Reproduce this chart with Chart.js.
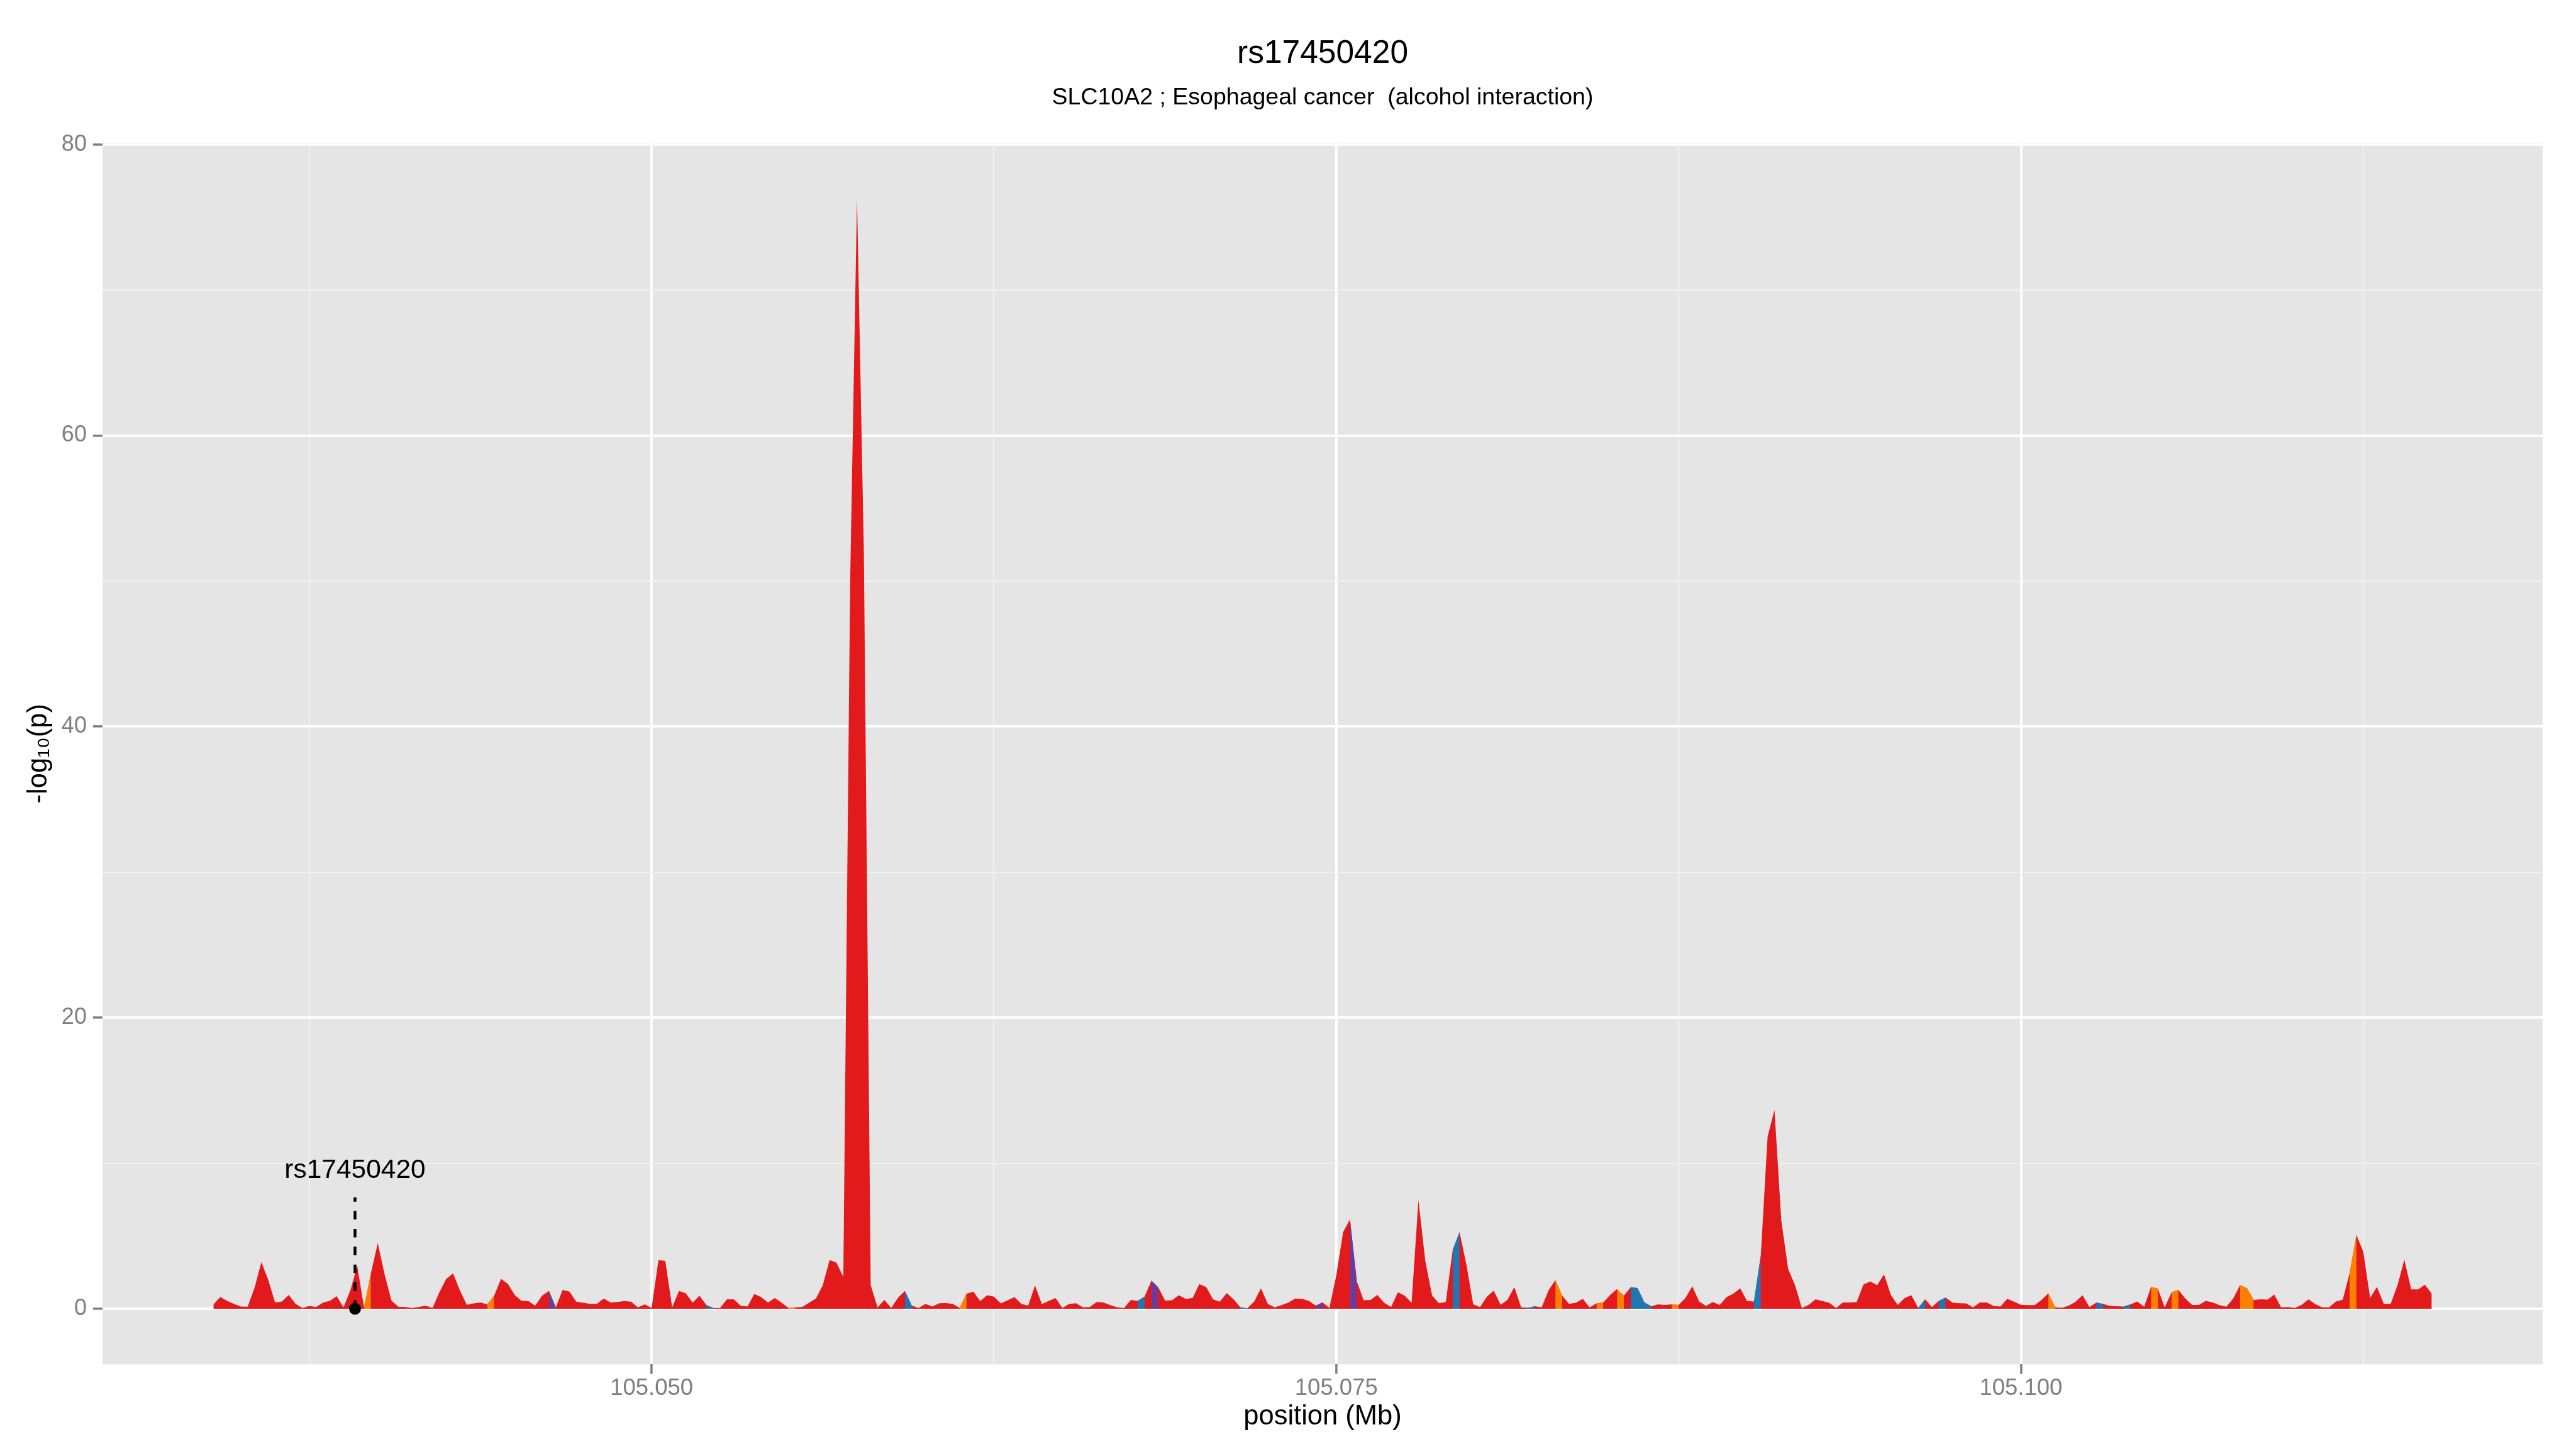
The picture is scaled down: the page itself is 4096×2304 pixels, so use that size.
<!DOCTYPE html>
<html>
<head>
<meta charset="utf-8">
<title>rs17450420</title>
<script src="https://cdn.jsdelivr.net/npm/chart.js@4.4.0/dist/chart.umd.min.js"></script>
<style>
    html, body { margin: 0; padding: 0; background: #ffffff; }
    #wrap { width: 4096px; height: 2304px; }
</style>
</head>
<body>
<div id="wrap"><canvas id="chart" width="4096" height="2304"></canvas></div>
<script>
// binned positions along the region (Mb)
var positions = [
    105.034, 105.03425, 105.0345, 105.03475, 105.035, 105.03525, 105.0355, 105.03575,
    105.036, 105.03625, 105.0365, 105.03675, 105.037, 105.03725, 105.0375, 105.03775,
    105.038, 105.03825, 105.0385, 105.03875, 105.039, 105.03925, 105.0395, 105.03975,
    105.040, 105.04025, 105.0405, 105.04075, 105.041, 105.04125, 105.0415, 105.04175,
    105.042, 105.04225, 105.0425, 105.04275, 105.043, 105.04325, 105.0435, 105.04375,
    105.044, 105.04425, 105.0445, 105.04475, 105.045, 105.04525, 105.0455, 105.04575,
    105.046, 105.04625, 105.0465, 105.04675, 105.047, 105.04725, 105.0475, 105.04775,
    105.048, 105.04825, 105.0485, 105.04875, 105.049, 105.04925, 105.0495, 105.04975,
    105.050, 105.05025, 105.0505, 105.05075, 105.051, 105.05125, 105.0515, 105.05175,
    105.052, 105.05225, 105.0525, 105.05275, 105.053, 105.05325, 105.0535, 105.05375,
    105.054, 105.05425, 105.0545, 105.05475, 105.055, 105.05525, 105.0555, 105.05575,
    105.056, 105.05625, 105.0565, 105.05675, 105.057, 105.05725, 105.0575, 105.05775,
    105.058, 105.05825, 105.0585, 105.05875, 105.059, 105.05925, 105.0595, 105.05975,
    105.060, 105.06025, 105.0605, 105.06075, 105.061, 105.06125, 105.0615, 105.06175,
    105.062, 105.06225, 105.0625, 105.06275, 105.063, 105.06325, 105.0635, 105.06375,
    105.064, 105.06425, 105.0645, 105.06475, 105.065, 105.06525, 105.0655, 105.06575,
    105.066, 105.06625, 105.0665, 105.06675, 105.067, 105.06725, 105.0675, 105.06775,
    105.068, 105.06825, 105.0685, 105.06875, 105.069, 105.06925, 105.0695, 105.06975,
    105.070, 105.07025, 105.0705, 105.07075, 105.071, 105.07125, 105.0715, 105.07175,
    105.072, 105.07225, 105.0725, 105.07275, 105.073, 105.07325, 105.0735, 105.07375,
    105.074, 105.07425, 105.0745, 105.07475, 105.075, 105.07525, 105.0755, 105.07575,
    105.076, 105.07625, 105.0765, 105.07675, 105.077, 105.07725, 105.0775, 105.07775,
    105.078, 105.07825, 105.0785, 105.07875, 105.079, 105.07925, 105.0795, 105.07975,
    105.080, 105.08025, 105.0805, 105.08075, 105.081, 105.08125, 105.0815, 105.08175,
    105.082, 105.08225, 105.0825, 105.08275, 105.083, 105.08325, 105.0835, 105.08375,
    105.084, 105.08425, 105.0845, 105.08475, 105.085, 105.08525, 105.0855, 105.08575,
    105.086, 105.08625, 105.0865, 105.08675, 105.087, 105.08725, 105.0875, 105.08775,
    105.088, 105.08825, 105.0885, 105.08875, 105.089, 105.08925, 105.0895, 105.08975,
    105.090, 105.09025, 105.0905, 105.09075, 105.091, 105.09125, 105.0915, 105.09175,
    105.092, 105.09225, 105.0925, 105.09275, 105.093, 105.09325, 105.0935, 105.09375,
    105.094, 105.09425, 105.0945, 105.09475, 105.095, 105.09525, 105.0955, 105.09575,
    105.096, 105.09625, 105.0965, 105.09675, 105.097, 105.09725, 105.0975, 105.09775,
    105.098, 105.09825, 105.0985, 105.09875, 105.099, 105.09925, 105.0995, 105.09975,
    105.100, 105.10025, 105.1005, 105.10075, 105.101, 105.10125, 105.1015, 105.10175,
    105.102, 105.10225, 105.1025, 105.10275, 105.103, 105.10325, 105.1035, 105.10375,
    105.104, 105.10425, 105.1045, 105.10475, 105.105, 105.10525, 105.1055, 105.10575,
    105.106, 105.10625, 105.1065, 105.10675, 105.107, 105.10725, 105.1075, 105.10775,
    105.108, 105.10825, 105.1085, 105.10875, 105.109, 105.10925, 105.1095, 105.10975,
    105.110, 105.11025, 105.1105, 105.11075, 105.111, 105.11125, 105.1115, 105.11175,
    105.112, 105.11225, 105.1125, 105.11275, 105.113, 105.11325, 105.1135, 105.11375,
    105.114, 105.11425, 105.1145, 105.11475, 105.115
];

// -log10(p) at each position
var logp = [
    0.3, 0.81, 0.55, 0.34, 0.16, 0.15, 1.43, 3.21, 2.0, 0.44,
    0.5, 0.95, 0.34, 0.06, 0.2, 0.12, 0.43, 0.55, 0.87, 0.1,
    1.27, 2.95, 0.1, 2.43, 4.52, 2.37, 0.57, 0.15, 0.12, 0.06,
    0.12, 0.22, 0.06, 1.14, 2.06, 2.43, 1.27, 0.28, 0.37, 0.44,
    0.31, 0.9, 2.06, 1.72, 0.96, 0.55, 0.53, 0.22, 0.9, 1.23,
    0.1, 1.3, 1.18, 0.49, 0.41, 0.34, 0.34, 0.71, 0.44, 0.47,
    0.53, 0.49, 0.1, 0.31, 0.06, 3.35, 3.29, 0.1, 1.23, 1.06,
    0.43, 0.9, 0.25, 0.06, 0.06, 0.65, 0.65, 0.22, 0.16, 1.02,
    0.8, 0.44, 0.74, 0.41, 0.06, 0.1, 0.12, 0.41, 0.71, 1.63,
    3.35, 3.17, 2.2, 50, 76.3, 52, 1.63, 0.1, 0.61, 0.06,
    0.77, 1.23, 0.22, 0.06, 0.34, 0.16, 0.38, 0.39, 0.34, 0.06,
    1.04, 1.18, 0.53, 0.93, 0.84, 0.37, 0.59, 0.8, 0.34, 0.22,
    1.6, 0.32, 0.55, 0.74, 0.06, 0.34, 0.38, 0.1, 0.12, 0.47,
    0.44, 0.25, 0.1, 0.06, 0.61, 0.55, 0.84, 1.94, 1.47, 0.57,
    0.59, 0.93, 0.69, 0.74, 1.7, 1.5, 0.65, 0.49, 1.08, 0.65,
    0.1, 0.04, 0.49, 1.41, 0.34, 0.1, 0.25, 0.43, 0.71, 0.69,
    0.55, 0.22, 0.44, 0.06, 2.3, 5.28, 6.14, 1.88, 0.59, 0.61,
    0.96, 0.41, 0.12, 1.14, 0.9, 0.41, 7.47, 3.29, 0.9, 0.38,
    0.47, 4.03, 5.28, 3.05, 0.31, 0.12, 0.84, 1.25, 0.28, 0.61,
    1.5, 0.1, 0.07, 0.18, 0.1, 1.27, 1.97, 0.9, 0.34, 0.41,
    0.69, 0.1, 0.37, 0.44, 0.96, 1.36, 0.9, 1.49, 1.43, 0.44,
    0.18, 0.31, 0.26, 0.31, 0.26, 0.75, 1.55, 0.5, 0.2, 0.47,
    0.26, 0.8, 1.04, 1.41, 0.53, 0.5, 3.66, 11.83, 13.67, 6.06,
    2.74, 1.63, 0.06, 0.28, 0.65, 0.53, 0.41, 0.06, 0.44, 0.44,
    0.47, 1.67, 1.88, 1.63, 2.37, 0.96, 0.26, 0.74, 0.93, 0.06,
    0.65, 0.12, 0.55, 0.77, 0.43, 0.38, 0.37, 0.1, 0.44, 0.44,
    0.2, 0.16, 0.69, 0.49, 0.28, 0.25, 0.25, 0.61, 1.06, 0.1,
    0.07, 0.22, 0.49, 0.93, 0.12, 0.43, 0.34, 0.2, 0.18, 0.16,
    0.31, 0.5, 0.14, 1.51, 1.39, 0.1, 1.14, 1.3, 0.71, 0.26,
    0.26, 0.55, 0.44, 0.25, 0.14, 0.71, 1.63, 1.43, 0.61, 0.65,
    0.63, 0.98, 0.1, 0.12, 0.06, 0.28, 0.65, 0.32, 0.1, 0.1,
    0.5, 0.63, 2.43, 5.07, 3.91, 0.75, 1.51, 0.34, 0.34, 1.63,
    3.38, 1.33, 1.33, 1.66, 1.04
];

// start index of each segment drawn in another colour
var orangeStarts = [22, 40, 84, 109, 196, 202, 205, 213, 268, 283, 286, 296, 297, 312];
var blueStarts = [72, 101, 135, 150, 181, 192, 207, 208, 209, 225, 249, 252, 275, 279];
var purpleStarts = [49, 137, 161, 166];

// grid lines and labelled ticks
var xGrid = [105.0375, 105.05, 105.0625, 105.075, 105.0875, 105.1, 105.1125];
var xTickValues = [105.05, 105.075, 105.1];
var xTickLabels = ['105.050', '105.075', '105.100'];
var yGrid = [0, 10, 20, 30, 40, 50, 60, 70, 80];
var yTickValues = [0, 20, 40, 60, 80];
var yTickLabels = ['0', '20', '40', '60', '80'];

// highlighted SNP
var snpName = 'rs17450420';
var snpPos = 105.03917;
var snpLineTop = 7.65;
var snpLabelY = 9.5;

var chartTitle = 'rs17450420';
var chartSubtitle = 'SLC10A2 ; Esophageal cancer  (alcohol interaction)';

var FONT = "'Liberation Sans', Arial, Helvetica, sans-serif";
Chart.defaults.font.family = FONT;

// keep only the points that belong to a coloured segment
function segmentSeries(starts) {
    return positions.map(function(p, i) {
        var on = starts.indexOf(i) >= 0 || starts.indexOf(i - 1) >= 0;
        return { x: p, y: on ? logp[i] : null };
    });
}

function isMajor(list, c) {
    return c.tick && list.indexOf(c.tick.value) >= 0;
}

// ggplot-like 5% expansion of the data range
var xPad = (positions[positions.length - 1] - positions[0]) * 0.05;
var yTop = Math.max.apply(null, logp);
var yPad = yTop * 0.05;

var panelBackground = {
    id: 'panelBackground',
    beforeDraw: function(chart) {
        var a = chart.chartArea;
        var ctx = chart.ctx;
        ctx.save();
        ctx.fillStyle = '#E5E5E5';
        ctx.fillRect(a.left, a.top, a.right - a.left, a.bottom - a.top);
        ctx.restore();
    }
};

var snpText = {
    id: 'snpText',
    afterDatasetsDraw: function(chart) {
        var ctx = chart.ctx;
        ctx.save();
        ctx.fillStyle = '#000000';
        ctx.font = '42.5px ' + FONT;
        ctx.textAlign = 'center';
        ctx.textBaseline = 'middle';
        ctx.fillText(snpName, chart.scales.x.getPixelForValue(snpPos), chart.scales.y.getPixelForValue(snpLabelY));
        ctx.restore();
    }
};

var ctx = document.getElementById('chart').getContext('2d');
var chart = new Chart(ctx, {
    type: 'line',
    data: {
        datasets: [
            {
                label: 'p',
                data: positions.map(function(p, i) { return { x: p, y: logp[i] }; }),
                backgroundColor: '#E31A1C',
                borderWidth: 0,
                pointRadius: 0,
                fill: 'origin',
                order: 10
            },
            {
                label: 'blue',
                data: segmentSeries(blueStarts),
                backgroundColor: '#1F78B4',
                borderWidth: 0,
                pointRadius: 0,
                fill: 'origin',
                order: 5
            },
            {
                label: 'orange',
                data: segmentSeries(orangeStarts),
                backgroundColor: '#FF7F00',
                borderWidth: 0,
                pointRadius: 0,
                fill: 'origin',
                order: 5
            },
            {
                label: 'purple',
                data: segmentSeries(purpleStarts),
                backgroundColor: '#6A3D9A',
                borderWidth: 0,
                pointRadius: 0,
                fill: 'origin',
                order: 5
            },
            {
                label: 'snp line',
                data: [{ x: snpPos, y: 0 }, { x: snpPos, y: snpLineTop }],
                borderColor: '#000000',
                borderWidth: 4.5,
                borderDash: [13.6, 14.8],
                pointRadius: 0,
                fill: false,
                order: 2
            },
            {
                label: 'snp',
                type: 'scatter',
                data: [{ x: snpPos, y: 0 }],
                backgroundColor: '#000000',
                borderWidth: 0,
                pointRadius: 9.4,
                order: 1
            }
        ]
    },
    options: {
        responsive: false,
        animation: false,
        devicePixelRatio: 1,
        layout: { padding: { left: 0, right: 53, top: 0, bottom: 0 } },
        plugins: {
            legend: { display: false },
            tooltip: { enabled: false },
            title: {
                display: true,
                fullSize: false,
                text: chartTitle,
                color: '#000000',
                font: { size: 51.5, weight: 'normal', lineHeight: 1.2 },
                padding: { top: 54.8, bottom: 8 }
            },
            subtitle: {
                display: true,
                fullSize: false,
                text: chartSubtitle,
                color: '#000000',
                font: { size: 37.5, weight: 'normal', lineHeight: 1.2 },
                padding: { top: 8.6, bottom: 48.8 }
            }
        },
        scales: {
            x: {
                type: 'linear',
                min: positions[0] - xPad,
                max: positions[positions.length - 1] + xPad,
                afterBuildTicks: function(axis) {
                    axis.ticks = xGrid.map(function(v) { return { value: v }; });
                },
                afterFit: function(axis) { axis.height = 134.6; },
                border: { display: false },
                grid: {
                    color: function(c) { return isMajor(xTickValues, c) ? '#FFFFFF' : '#F2F2F2'; },
                    lineWidth: function(c) { return isMajor(xTickValues, c) ? 3.8 : 1.9; },
                    tickColor: function(c) { return isMajor(xTickValues, c) ? '#7F7F7F' : 'rgba(0,0,0,0)'; },
                    tickWidth: 3.5,
                    tickLength: 15.1
                },
                ticks: {
                    autoSkip: false,
                    maxRotation: 0,
                    padding: 2,
                    color: '#7F7F7F',
                    font: { size: 36.5 },
                    callback: function(value) {
                        var i = xTickValues.indexOf(value);
                        return i >= 0 ? xTickLabels[i] : '';
                    }
                },
                title: {
                    display: true,
                    text: 'position (Mb)',
                    color: '#000000',
                    font: { size: 43.5, lineHeight: 1.2 },
                    padding: { top: 0, bottom: 24.9 }
                }
            },
            y: {
                type: 'linear',
                min: -yPad,
                max: yTop + yPad,
                afterBuildTicks: function(axis) {
                    axis.ticks = yGrid.map(function(v) { return { value: v }; });
                },
                afterFit: function(axis) { axis.width = 163; },
                border: { display: false },
                grid: {
                    color: function(c) { return isMajor(yTickValues, c) ? '#FFFFFF' : '#F2F2F2'; },
                    lineWidth: function(c) { return isMajor(yTickValues, c) ? 3.8 : 1.9; },
                    tickColor: function(c) { return isMajor(yTickValues, c) ? '#7F7F7F' : 'rgba(0,0,0,0)'; },
                    tickWidth: 3.5,
                    tickLength: 15.1
                },
                ticks: {
                    autoSkip: false,
                    padding: 10,
                    color: '#7F7F7F',
                    font: { size: 36 },
                    callback: function(value) {
                        var i = yTickValues.indexOf(value);
                        return i >= 0 ? yTickLabels[i] : '';
                    }
                },
                title: {
                    display: true,
                    text: '-log\u2081\u2080(p)',
                    color: '#000000',
                    font: { size: 43.5, lineHeight: 1.2 },
                    padding: { top: 35.9, bottom: 0 }
                }
            }
        }
    },
    plugins: [panelBackground, snpText]
});
</script>
</body>
</html>
